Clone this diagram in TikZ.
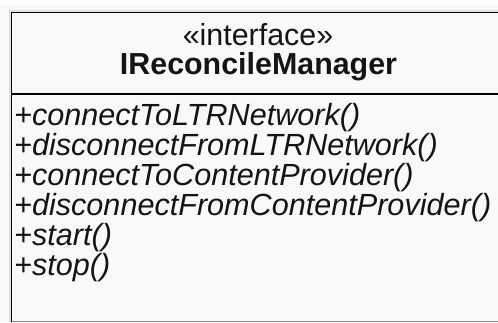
\documentclass[tikz,border=0pt]{standalone}
\usepackage{fontspec}
\setmainfont{Liberation Sans}
\definecolor{bgcol}{RGB}{249,249,249}
\definecolor{txtcol}{RGB}{20,20,20}
\begin{document}
\begin{tikzpicture}[x=1pt,y=-1pt,
  hdr/.style={inner sep=0pt,anchor=base,text=txtcol,font=\fontsize{30.4}{34}\selectfont},
  meth/.style={inner sep=0pt,anchor=base west,text=txtcol,font=\fontsize{30.6}{34}\selectfont\itshape},
  border/.style={draw=black,line width=1.8pt}]
\useasboundingbox (0,0) rectangle (498,322);
\fill[bgcol] (0,0) rectangle (498,322);
\fill[white] (0,0) rectangle (498,5);
\fill[black!12] (8.5,9.5) rectangle (520,330);
\fill[bgcol] (11.5,12.5) rectangle (520,330);
\begin{scope}
\clip (0,0) rectangle (498,322);
\draw[border] (520,12.5) -- (11.5,12.5) -- (11.5,322);
\draw[black!45,line width=1.2pt] (11.5,321.4) -- (520,321.4);
\coordinate (sepL) at (11.5,94);
\coordinate (sepR) at (520,94);
\draw[black,line width=1.5pt] (sepL) -- (sepR);
\end{scope}
\node[hdr] (stereo) at (258,45) {«interface»};
\node[hdr,font=\fontsize{30.4}{34}\selectfont\bfseries] (name) at (258.5,74) {IReconcileManager};
\node[meth] (m1) at (14,125) {+connectToLTRNetwork()};
\node[meth] (m2) at (14,155) {+disconnectFromLTRNetwork()};
\node[meth] (m3) at (14,185) {+connectToContentProvider()};
\node[meth] (m4) at (14,215) {+disconnectFromContentProvider()};
\node[meth] (m5) at (14,245) {+start()};
\node[meth] (m6) at (14,275) {+stop()};
\end{tikzpicture}
\end{document}
